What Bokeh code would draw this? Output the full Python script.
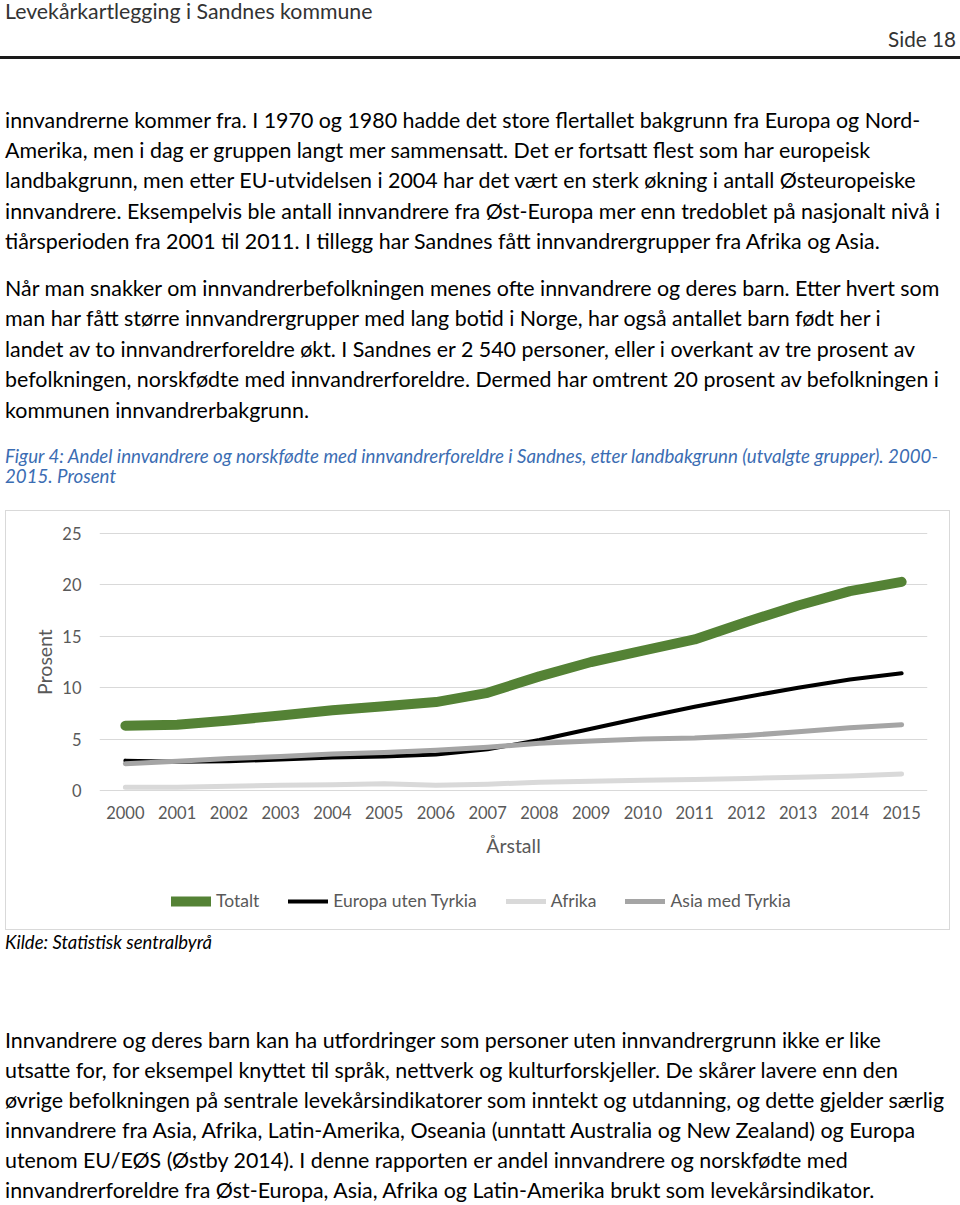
from bokeh.plotting import figure
from bokeh.models import Div, FixedTicker, Range1d, Legend, LegendItem
from bokeh.layouts import column
from bokeh.embed import file_html
from bokeh.resources import INLINE

# ---------------- data ----------------
years = list(range(2000, 2016))
totalt = [6.3, 6.4, 6.8, 7.3, 7.8, 8.2, 8.6, 9.5, 11.1, 12.5, 13.6, 14.7, 16.4, 18.0, 19.4, 20.3]
europa = [2.9, 2.8, 2.85, 3.0, 3.2, 3.3, 3.5, 4.0, 4.9, 6.0, 7.1, 8.15, 9.1, 10.0, 10.8, 11.4]
afrika = [0.3, 0.3, 0.4, 0.5, 0.55, 0.65, 0.5, 0.6, 0.8, 0.9, 1.0, 1.07, 1.17, 1.27, 1.4, 1.6]
asia = [2.6, 2.85, 3.1, 3.3, 3.55, 3.7, 3.9, 4.2, 4.6, 4.8, 5.0, 5.1, 5.35, 5.7, 6.1, 6.4]
series_names = ["Totalt", "Europa uten Tyrkia", "Afrika", "Asia med Tyrkia"]
y_ticks = [0, 5, 10, 15, 20, 25]

header_left = "Levekårkartlegging i Sandnes kommune"
header_right = "Side 18"
para1 = [
    "innvandrerne kommer fra. I 1970 og 1980 hadde det store flertallet bakgrunn fra Europa og Nord-",
    "Amerika, men i dag er gruppen langt mer sammensatt. Det er fortsatt flest som har europeisk",
    "landbakgrunn, men etter EU-utvidelsen i 2004 har det vært en sterk økning i antall Østeuropeiske",
    "innvandrere. Eksempelvis ble antall innvandrere fra Øst-Europa mer enn tredoblet på nasjonalt nivå i",
    "tiårsperioden fra 2001 til 2011. I tillegg har Sandnes fått innvandrergrupper fra Afrika og Asia.",
]
para2 = [
    "Når man snakker om innvandrerbefolkningen menes ofte innvandrere og deres barn. Etter hvert som",
    "man har fått større innvandrergrupper med lang botid i Norge, har også antallet barn født her i",
    "landet av to innvandrerforeldre økt. I Sandnes er 2 540 personer, eller i overkant av tre prosent av",
    "befolkningen, norskfødte med innvandrerforeldre. Dermed har omtrent 20 prosent av befolkningen i",
    "kommunen innvandrerbakgrunn.",
]
caption = [
    "Figur 4: Andel innvandrere og norskfødte med innvandrerforeldre i Sandnes, etter landbakgrunn (utvalgte grupper). 2000-",
    "2015. Prosent",
]
source = "Kilde: Statistisk sentralbyrå"
para3 = [
    "Innvandrere og deres barn kan ha utfordringer som personer uten innvandrergrunn ikke er like",
    "utsatte for, for eksempel knyttet til språk, nettverk og kulturforskjeller. De skårer lavere enn den",
    "øvrige befolkningen på sentrale levekårsindikatorer som inntekt og utdanning, og dette gjelder særlig",
    "innvandrere fra Asia, Afrika, Latin-Amerika, Oseania (unntatt Australia og New Zealand) og Europa",
    "utenom EU/EØS (Østby 2014). I denne rapporten er andel innvandrere og norskfødte med",
    "innvandrerforeldre fra Øst-Europa, Asia, Afrika og Latin-Amerika brukt som levekårsindikator.",
]

FONT = "Lato"
BODY = 21.4


def line_html(text, x, baseline, size, color="#000000", italic=False, right=None):
    L = size
    top = baseline - 0.987 * size - (L - 1.2 * size) / 2
    pos = f"left:{x}px;" if right is None else f"right:{right}px;"
    it = "font-style:italic;" if italic else ""
    return (f'<div style="position:absolute;{pos}top:{top:.1f}px;font-family:{FONT};'
            f'font-size:{size}px;line-height:{L}px;color:{color};white-space:nowrap;{it}">{text}</div>')


def block(lines, x, base0, step, size, **kw):
    return "".join(line_html(t, x, base0 + i * step, size, **kw) for i, t in enumerate(lines))


# ---------------- top text (page origin is 0,0) ----------------
TOP_H = 510
top_parts = [
    line_html(header_left, 5, 19.5, 21.3, color="#333333"),
    line_html(header_right, 0, 47.5, 20.7, color="#333333", right=4),
    '<div style="position:absolute;left:0px;top:56px;width:960px;height:3px;background:#1a1a1a"></div>',
    block(para1, 5, 128.5, 30.4, BODY),
    block(para2, 5, 297, 30.4, BODY),
    block(caption, 5, 464, 19.6, 18.7, color="#3B6DB3", italic=True),
]
top_div = Div(text=f'<div style="position:relative;width:960px;height:{TOP_H}px;">' + "".join(top_parts) + "</div>",
              width=960, height=TOP_H, margin=0)

# ---------------- chart ----------------
p = figure(width=945, height=350, x_range=Range1d(1999.5, 2015.5), y_range=Range1d(-0.3, 25.3),
           output_backend="svg", toolbar_location=None,
           min_border_left=94, min_border_right=23, min_border_top=20, min_border_bottom=67)
p.outline_line_color = None
p.background_fill_color = None
p.border_fill_color = None
p.xgrid.grid_line_color = None
p.ygrid.grid_line_color = "#d9d9d9"
p.ygrid.grid_line_width = 1
p.xaxis.ticker = FixedTicker(ticks=years)
p.yaxis.ticker = FixedTicker(ticks=y_ticks)
for ax in (p.xaxis[0], p.yaxis[0]):
    ax.axis_line_color = None
    ax.major_tick_line_color = None
    ax.minor_tick_line_color = None
    ax.major_tick_in = 0
    ax.major_tick_out = 0
    ax.major_label_text_font = FONT
    ax.major_label_text_font_size = "16.5px"
    ax.major_label_text_color = "#595959"
    ax.axis_label_text_font = FONT
    ax.axis_label_text_font_size = "19.5px"
    ax.axis_label_text_color = "#595959"
    ax.axis_label_text_font_style = "normal"
p.yaxis.major_label_standoff = 18
p.xaxis.major_label_standoff = 12
p.yaxis.axis_label = "Prosent"
p.yaxis.axis_label_standoff = 3
p.xaxis.axis_label = "Årstall"
p.xaxis.axis_label_standoff = 12

line_styles = [("#548235", 10), ("#000000", 4), ("#d9d9d9", 5), ("#a5a5a5", 5)]
for vals, (col, w) in zip([totalt, europa, afrika, asia], line_styles):
    p.line(years, vals, line_color=col, line_width=w, line_cap="round", line_join="round")

# ---------------- legend strip (inside the same chart box) ----------------
lg = figure(width=945, height=70, x_range=Range1d(0, 1), y_range=Range1d(0, 1),
            output_backend="svg", toolbar_location=None, x_axis_type=None, y_axis_type=None,
            min_border=0, min_border_left=0, min_border_right=0, min_border_top=0, min_border_bottom=0)
lg.outline_line_color = None
lg.background_fill_color = None
lg.border_fill_color = None
lg.xgrid.visible = False
lg.ygrid.visible = False
nan = float("nan")
swatches = []
for col, w in line_styles:
    swatches.append(lg.line(x=[nan], y=[nan], line_color=col, line_width=w, line_cap="round"))
legend = Legend(items=[LegendItem(label=n, renderers=[r]) for n, r in zip(series_names, swatches)],
                orientation="horizontal", location=(72, 19), glyph_width=40, glyph_height=20,
                label_standoff=5, spacing=29, padding=0, margin=0,
                border_line_color=None, background_fill_alpha=0,
                label_text_font=FONT, label_text_font_size="17.5px", label_text_color="#595959")
lg.add_layout(legend)

chart_box = column(p, lg, spacing=0, margin=(0, 0, 0, 5),
                   styles={"outline": "1px solid #d9d9d9", "outline-offset": "-1px"})

# ---------------- bottom text ----------------
BOT_Y = 930
BOT_H = 275
bot_parts = [
    line_html(source, 5, 949.5 - BOT_Y, 18.5, italic=True),
    block(para3, 5, 1048.5 - BOT_Y, 30.1, BODY),
]
bot_div = Div(text=f'<div style="position:relative;width:960px;height:{BOT_H}px;">' + "".join(bot_parts) + "</div>",
              width=960, height=BOT_H, margin=0)

page = column(top_div, chart_box, bot_div, spacing=0)
open("out.html", "w", encoding="utf-8").write(file_html(page, INLINE))
